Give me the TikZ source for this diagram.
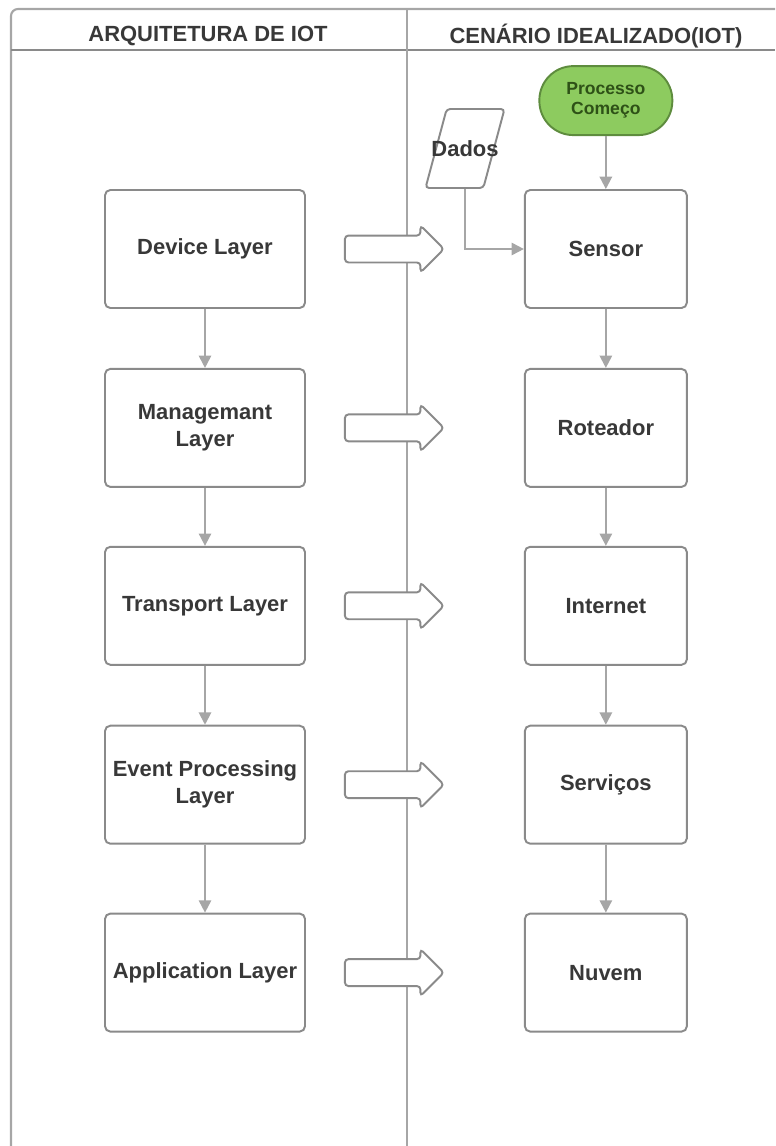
\documentclass[tikz,border=0pt]{standalone}
\usepackage{fontspec}
\setmainfont{Liberation Sans}
\usepackage{tikz}
\usetikzlibrary{shapes.geometric,shapes.arrows,arrows.meta,positioning}
\definecolor{linegray}{HTML}{A6A6A6}
\definecolor{boxgray}{HTML}{8A8A8A}
\definecolor{txtgray}{HTML}{383838}
\definecolor{startgreen}{HTML}{8DCB5F}
\definecolor{startborder}{HTML}{5E8C3E}
\definecolor{starttext}{HTML}{2E5117}

\begin{document}
\begin{tikzpicture}[
    x=0.02cm, y=-0.02cm,
    % --- STYLES ---
    layer/.style={
        rectangle, rounded corners=3pt,
        draw=boxgray, line width=1.1pt, fill=white,
        minimum width=4cm,
        minimum height=2.36cm,
        align=center, text=txtgray,
        font=\bfseries\fontsize{12.5}{15.3}\selectfont
    },
    stage/.style={layer, minimum width=3.24cm},
    startnode/.style={
        rectangle, rounded corners=0.68cm,
        draw=startborder, line width=1.1pt, fill=startgreen,
        minimum width=2.66cm, minimum height=1.38cm,
        align=center, text=starttext,
        font=\bfseries\fontsize{10}{11.5}\selectfont
    },
    data/.style={
        trapezium, trapezium left angle=75, trapezium right angle=105,
        trapezium stretches body,
        draw=boxgray, line width=1.1pt, fill=white, rounded corners=2pt,
        minimum width=1.58cm, inner sep=0pt
    },
    bigarrow/.style={
        single arrow, draw=boxgray, line width=1.1pt, fill=white,
        inner xsep=0pt, inner ysep=0.25cm,
        minimum height=1.98cm, single arrow head extend=0.2cm,
        rounded corners=2pt
    },
    header/.style={font=\bfseries\fontsize{12.5}{15}\selectfont, text=txtgray},
    lane/.style={draw=linegray, line width=1.2pt},
    flow/.style={-{Triangle[width=7pt,length=7pt]}, draw=linegray, line width=1.1pt}
]
\useasboundingbox (0,0) rectangle (775,1146);

% ===== 1. LANES & HEADERS =====
\draw[lane, rounded corners=4pt] (775,9) -| (11,1146);
\draw[lane, draw=boxgray, line width=1.5pt] (11,50) -- (775,50);
\draw[lane] (407,9) -- (407,1146);

\node[header] (h1) at (208,36) {ARQUITETURA DE IOT};
\node[header] (h2) at (596,36) {CENÁRIO IDEALIZADO(IOT)};

% ===== 2. IOT LAYERS (LEFT) =====
\node[layer] (dev) at (205,249) {Device Layer};
\node[layer, below=1.18cm of dev] (mgt) {Managemant\\ Layer};
\node[layer, below=1.16cm of mgt] (trp) {Transport Layer};
\node[layer, below=1.18cm of trp] (evt) {Event Processing\\ Layer};
\node[layer, below=1.36cm of evt] (app) {Application Layer};

% ===== 3. SCENARIO (RIGHT) =====
\node[stage, right=4.36cm of dev] (sen) {Sensor};
\node[stage, below=1.18cm of sen] (rot) {Roteador};
\node[stage, below=1.16cm of rot] (net) {Internet};
\node[stage, below=1.18cm of net] (srv) {Serviços};
\node[stage, below=1.36cm of srv] (nuv) {Nuvem};

\node[startnode, above=1.06cm of sen] (ini) {Processo\\ Começo};
\node[data, label={[header]center:Dados}] (dad) at (465,148.5) {\rule{0pt}{1.58cm}};

% Block arrows between lanes
\node[bigarrow, right=0.76cm of dev] (a1) {};
\node[bigarrow, right=0.76cm of mgt] (a2) {};
\node[bigarrow, right=0.76cm of trp] (a3) {};
\node[bigarrow, right=0.76cm of evt] (a4) {};
\node[bigarrow, right=0.76cm of app] (a5) {};

% ===== 4. CONNECTIONS =====
\draw[flow] (dev) -- (mgt);
\draw[flow] (mgt) -- (trp);
\draw[flow] (trp) -- (evt);
\draw[flow] (evt) -- (app);

\draw[flow] (ini) -- (sen);
\draw[flow] (dad.south) |- (sen.west);
\draw[flow] (sen) -- (rot);
\draw[flow] (rot) -- (net);
\draw[flow] (net) -- (srv);
\draw[flow] (srv) -- (nuv);

\end{tikzpicture}
\end{document}
